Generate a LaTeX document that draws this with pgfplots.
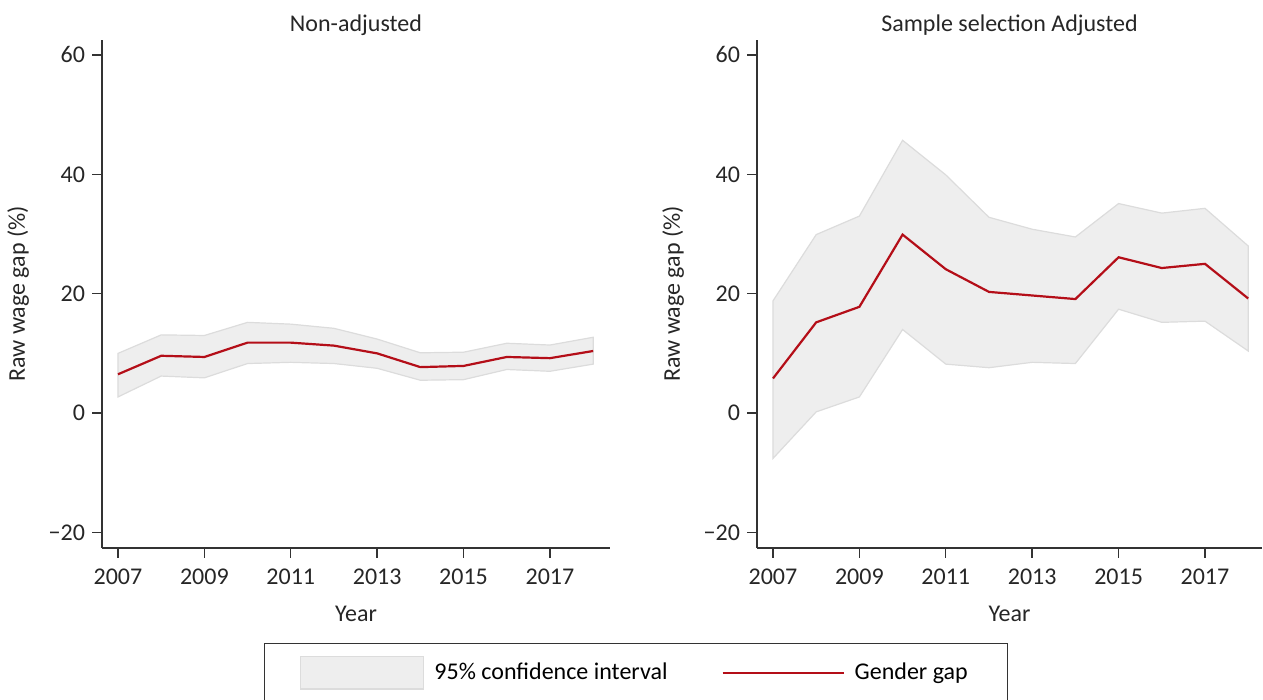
\documentclass[border=0pt]{standalone}
\usepackage{fontspec}
\setmainfont{Carlito}
\usepackage{pgfplots}
\pgfplotsset{compat=1.18}
\usepackage{pgfplotstable}
\definecolor{ciFill}{HTML}{EEEEEE}
\definecolor{ciEdge}{HTML}{DCDCDC}
\definecolor{gapRed}{RGB}{180,14,24}
\definecolor{axisGray}{HTML}{333333}

% columns: year, gender gap, lower 95% bound, upper 95% bound
\pgfplotstableread{
year gap lo hi
2007 6.5 2.7 10.0
2008 9.6 6.2 13.1
2009 9.4 5.9 13.0
2010 11.8 8.3 15.2
2011 11.8 8.5 14.9
2012 11.3 8.3 14.2
2013 10.0 7.5 12.4
2014 7.7 5.5 10.1
2015 7.9 5.6 10.2
2016 9.4 7.3 11.7
2017 9.2 7.0 11.4
2018 10.4 8.2 12.7
}\nonadj

\pgfplotstableread{
year gap lo hi
2007 5.8 -7.6 18.8
2008 15.2 0.2 29.9
2009 17.8 2.7 33.0
2010 29.9 14.0 45.7
2011 24.1 8.2 39.9
2012 20.3 7.6 32.8
2013 19.7 8.5 30.8
2014 19.1 8.3 29.5
2015 26.1 17.4 35.1
2016 24.3 15.2 33.5
2017 25.0 15.4 34.3
2018 19.2 10.4 28.0
}\adj

\pgfplotsset{
  panel/.style={
    scale only axis,
    height=254pt,
    ymin=-22.6, ymax=62.5,
    ytick={-20,0,20,40,60},
    yticklabels={−20,0,20,40,60},
    xtick={2007,2009,2011,2013,2015,2017},
    xticklabels={2007,2009,2011,2013,2015,2017},
    axis x line=bottom, axis y line=left,
    axis line style={-, draw=axisGray, line width=0.7pt},
    tick style={draw=axisGray, line width=0.7pt},
    tick align=outside,
    major tick length=5pt,
    ticklabel style={font=\fontsize{12}{14}\selectfont, text=black!85},
    xticklabel style={yshift=-2pt},
    label style={font=\fontsize{12}{14}\selectfont, text=black!85},
    xlabel style={yshift=-4pt},
    ylabel style={yshift=3pt},
    title style={font=\fontsize{12}{14}\selectfont, text=black!85, yshift=-7.5pt},
    xlabel={Year},
    ylabel={Raw wage gap (\%)},
    clip=false,
  },
  band/.style={fill=ciFill, draw=ciEdge, line width=0.6pt},
  gapline/.style={draw=gapRed, line width=1.1pt},
}

\begin{document}
\begin{tikzpicture}
\begin{axis}[panel, at={(0pt,0pt)}, width=254pt,
  xmin=2006.63, xmax=2018.39,
  title={Non-adjusted},
  legend columns=2,
  legend style={at={(1.0512,-0.187)}, anchor=north,
    draw=axisGray, line width=0.7pt,
    inner xsep=18pt, inner ysep=6pt,
    font=\fontsize{12}{14}\selectfont,
    /tikz/every even column/.append style={column sep=25pt},
    /tikz/every odd column/.append style={column sep=3pt},
    cells={anchor=west}},
]
% band: upper bound forward, lower bound backward
\addplot[band, legend image code/.code={\draw[fill=ciFill,draw=ciEdge,line width=0.6pt] (0pt,-8.2pt) rectangle (61.5pt,8.2pt);}] coordinates {
(2007,10.0) (2008,13.1) (2009,13.0) (2010,15.2) (2011,14.9) (2012,14.2)
(2013,12.4) (2014,10.1) (2015,10.2) (2016,11.7) (2017,11.4) (2018,12.7)
(2018,8.2) (2017,7.0) (2016,7.3) (2015,5.6) (2014,5.5) (2013,7.5)
(2012,8.3) (2011,8.5) (2010,8.3) (2009,5.9) (2008,6.2) (2007,2.7)} -- cycle;
\addlegendentry{95\% confidence interval}
\addplot[gapline, legend image code/.code={\draw[gapRed,line width=1.1pt] (0pt,0pt) -- (60.5pt,0pt);}] table[x=year,y=gap]{\nonadj};
\addlegendentry{Gender gap}
\end{axis}

\begin{axis}[panel, at={(327.5pt,0pt)}, width=252.5pt,
  xmin=2006.63, xmax=2018.32,
  title={Sample selection Adjusted},
]
\addplot[band] coordinates {
(2007,18.8) (2008,29.9) (2009,33.0) (2010,45.7) (2011,39.9) (2012,32.8)
(2013,30.8) (2014,29.5) (2015,35.1) (2016,33.5) (2017,34.3) (2018,28.0)
(2018,10.4) (2017,15.4) (2016,15.2) (2015,17.4) (2014,8.3) (2013,8.5)
(2012,7.6) (2011,8.2) (2010,14.0) (2009,2.7) (2008,0.2) (2007,-7.6)} -- cycle;
\addplot[gapline] table[x=year,y=gap]{\adj};
\end{axis}
\pgfresetboundingbox
\path[use as bounding box] (-51pt,-76pt) rectangle (580.5pt,274pt);
\end{tikzpicture}
\end{document}
